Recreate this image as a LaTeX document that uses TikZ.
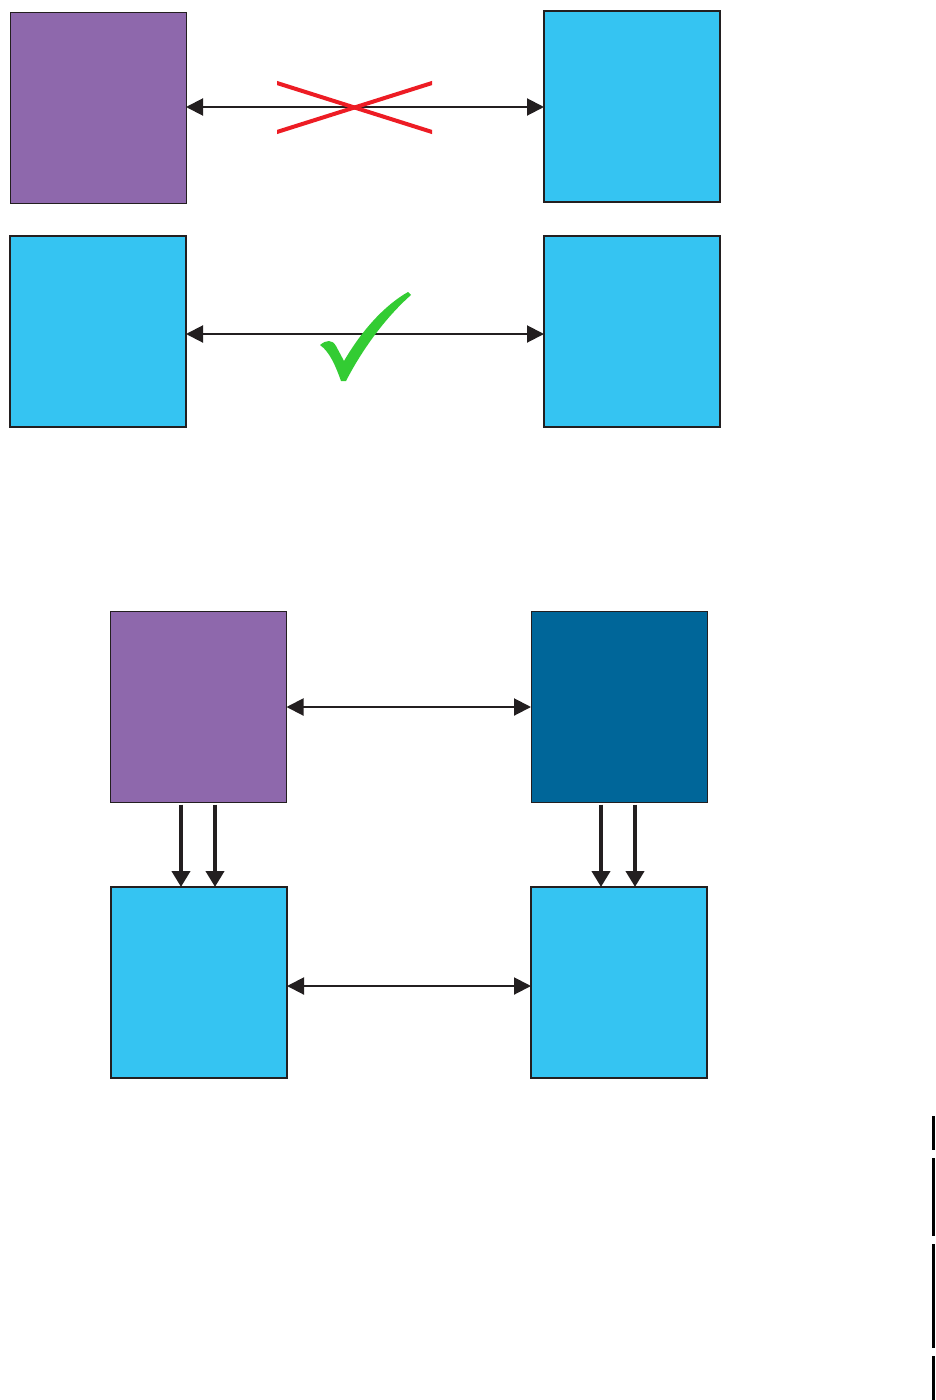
\documentclass[tikz,border=0pt]{standalone}
\usetikzlibrary{arrows.meta,calc}
\definecolor{purp}{HTML}{8E68AC}
\definecolor{cyanb}{HTML}{35C4F2}
\definecolor{darkb}{HTML}{006699}
\definecolor{edge}{HTML}{231F20}
\definecolor{xred}{HTML}{ED1C24}
\definecolor{okgreen}{HTML}{33CC33}
\tikzset{
  box/.style={draw=edge, inner sep=0pt, outer sep=0pt, minimum width=176pt, minimum height=191pt},
  purplebox/.style={box, fill=purp, line width=1pt},
  cyanbox/.style={box, fill=cyanb, line width=2pt},
  darkbox/.style={box, fill=darkb, line width=1pt},
  harrow/.style={draw=edge, line width=2pt, {Triangle[length=17pt,width=17pt]}-{Triangle[length=17pt,width=17pt]}},
  varrow/.style={draw=edge, line width=4pt, -{Triangle[length=16pt,width=18pt]}},
  sideline/.style={draw=black, line width=3pt}
}
\begin{document}
\begin{tikzpicture}[x=1pt,y=-1pt]
\useasboundingbox (0,0) rectangle (935,1400);
\node[purplebox] (A) at (98,107.5) {};
\node[cyanbox] (B) at (632,106) {};
\node[cyanbox] (C) at (98,331) {};
\node[cyanbox] (D) at (632,331) {};
\node[purplebox] (E) at (198.5,707) {};
\node[darkbox] (F) at (619,707) {};
\node[cyanbox] (G) at (199,982.5) {};
\node[cyanbox] (H) at (619,982.5) {};
\draw[harrow] (A.east |- 0,107) -- (B.west |- 0,107);
\draw[harrow] (C.east |- 0,334) -- (D.west |- 0,334);
\draw[harrow] (E.east) -- (F.west);
\draw[harrow] (G.east |- 0,986) -- (H.west |- 0,986);
\draw[varrow] ($(E.south)+(-17.5,2)$) -- ($(G.north)+(-18,0)$);
\draw[varrow] ($(E.south)+(16.5,2)$) -- ($(G.north)+(16,0)$);
\draw[varrow] ($(F.south)+(-18,2)$) -- ($(H.north)+(-18,0)$);
\draw[varrow] ($(F.south)+(16,2)$) -- ($(H.north)+(16,0)$);
% red cross
\begin{scope}
\clip (277,70) rectangle (432,145);
\draw[xred, line width=4pt] (270,80.8) -- (439,134.2);
\draw[xred, line width=4pt] (270,134.2) -- (439,80.8);
\end{scope}
% green check
\fill[okgreen] (320,345) .. controls (326,340) and (332,339) .. (336,346)
  -- (344,361) .. controls (362,330) and (385,305) .. (408,292)
  -- (411,295) .. controls (385,318) and (362,350) .. (346,381)
  -- (341,381) .. controls (336,367) and (330,352) .. (320,345) -- cycle;
% right side marks
\draw[sideline] (933.5,1116) -- (933.5,1150);
\draw[sideline] (933.5,1158) -- (933.5,1236);
\draw[sideline] (933.5,1244) -- (933.5,1348);
\draw[sideline] (933.5,1356) -- (933.5,1400);
\end{tikzpicture}
\end{document}
